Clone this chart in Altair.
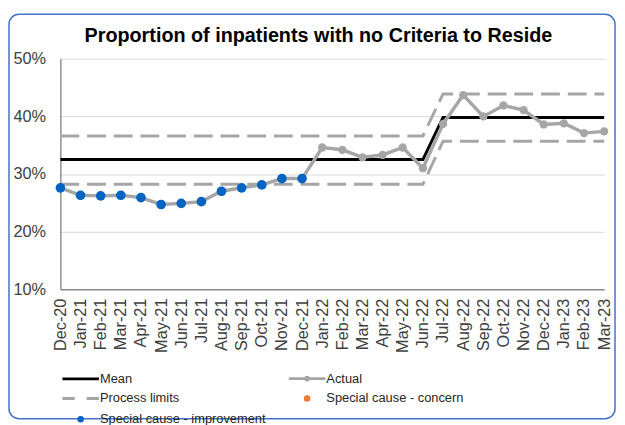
import altair as alt
import pandas as pd

months = ["Dec-20", "Jan-21", "Feb-21", "Mar-21", "Apr-21", "May-21", "Jun-21",
          "Jul-21", "Aug-21", "Sep-21", "Oct-21", "Nov-21", "Dec-21", "Jan-22",
          "Feb-22", "Mar-22", "Apr-22", "May-22", "Jun-22", "Jul-22", "Aug-22",
          "Sep-22", "Oct-22", "Nov-22", "Dec-22", "Jan-23", "Feb-23", "Mar-23"]
actual = [27.6, 26.3, 26.2, 26.3, 25.9, 24.7, 24.9, 25.2, 27.0, 27.6, 28.1, 29.2,
          29.2, 34.6, 34.2, 32.9, 33.3, 34.6, 31.0, 38.7, 43.7, 40.0, 41.9, 41.1,
          38.6, 38.8, 37.1, 37.4]
mean = [32.5] * 19 + [39.8] * 9
upper_limit = [36.6] * 19 + [43.9] * 9
lower_limit = [28.2] * 19 + [35.7] * 9
improvement = [True] * 13 + [False] * 15
concern = [False] * 28

# legend entries listed column by column (two columns)
legend_names = ["Mean", "Process limits", "Special cause - improvement",
                "Actual", "Special cause - concern"]
legend_colors = ["#000000", "#A6A6A6", "#0563C1", "#A6A6A6", "#ED7D31"]
DOT = "M0.3,0A0.3,0.3,0,1,1,-0.3,0A0.3,0.3,0,1,1,0.3,0"
legend_shapes = [
    "M-3.08,0H3.08",
    "M-3.08,0H-1M1,0H3.08",
    DOT,
    "M-3.08,0H3.08M0.25,0A0.25,0.25,0,1,1,-0.25,0A0.25,0.25,0,1,1,0.25,0",
    DOT,
]

df = pd.DataFrame({
    "month": months,
    "actual": actual,
    "mean": mean,
    "upper": upper_limit,
    "lower": lower_limit,
    "improvement": improvement,
    "concern": concern,
})

FONT = "Liberation Sans"
GREY = "#A6A6A6"
LABEL = "#404040"

x_enc = alt.X("month:N", sort=months,
              scale=alt.Scale(type="point", padding=0, domain=months),
              axis=alt.Axis(title=None, labelAngle=270, labelFontSize=16.5, labelFont=FONT,
                            labelColor=LABEL, ticks=False, labelPadding=9,
                            domainColor="#8C8C8C", domainWidth=1.5, grid=False,
                            labelAlign="right", labelBaseline="middle"))
y_scale = alt.Scale(domain=[10, 50], nice=False, zero=False)

base = alt.Chart(df)

frame = alt.Chart(pd.DataFrame({"k": [0]})).mark_rect(
    fillOpacity=0, stroke="#4472C4", strokeWidth=1.5, cornerRadius=10
).encode(x=alt.value(-52), x2=alt.value(561), y=alt.value(-45), y2=alt.value(364))

mean_line = base.mark_line(color="#000000", strokeWidth=3).encode(
    x=x_enc,
    y=alt.Y("mean:Q", scale=y_scale,
            axis=alt.Axis(title=None, values=[10, 15, 20, 25, 30, 35, 40, 45, 50],
                          labelExpr="datum.value + '%'", labelFontSize=16.5, labelFont=FONT,
                          labelColor=LABEL, ticks=False, labelPadding=15,
                          domainColor="#595959", domainWidth=1,
                          gridColor="#D9D9D9", gridWidth=1)),
)

limits = base.transform_fold(["upper", "lower"], as_=["lim", "val"]).mark_line(
    color=GREY, strokeWidth=3, strokeDash=[19, 8]
).encode(x=x_enc, y=alt.Y("val:Q", scale=y_scale), detail="lim:N")

actual_line = base.mark_line(color=GREY, strokeWidth=3.5).encode(
    x=x_enc, y=alt.Y("actual:Q", scale=y_scale))
actual_pts = base.mark_point(filled=True, color=GREY, size=70, opacity=1).encode(
    x=x_enc, y=alt.Y("actual:Q", scale=y_scale))
impr_pts = base.transform_filter("datum.improvement").mark_point(
    filled=True, color="#0563C1", size=95, opacity=1
).encode(x=x_enc, y=alt.Y("actual:Q", scale=y_scale))

legend_df = pd.DataFrame({"entry": legend_names})
leg = alt.Legend(title=None, orient="none", legendX=13, legendY=316, columns=2,
                 columnPadding=17, rowPadding=4, symbolSize=144, symbolStrokeWidth=3,
                 symbolOpacity=1, labelFontSize=13, labelFont=FONT, labelColor="#262626",
                 labelOffset=12, labelLimit=400)
legend_layer = alt.Chart(legend_df).mark_point(filled=True, opacity=0).encode(
    fill=alt.Fill("entry:N", scale=alt.Scale(domain=legend_names, range=legend_colors), legend=leg),
    stroke=alt.Stroke("entry:N", scale=alt.Scale(domain=legend_names, range=legend_colors), legend=leg),
    shape=alt.Shape("entry:N", scale=alt.Scale(domain=legend_names, range=legend_shapes), legend=leg),
)

chart = alt.layer(frame, mean_line, limits, actual_line, actual_pts, impr_pts, legend_layer).properties(
    width=550, height=233,
    padding={"left": 53, "top": 49, "right": 13, "bottom": 135},
    autosize=alt.AutoSizeParams(type="none"),
    title=alt.Title("Proportion of inpatients with no Criteria to Reside", fontSize=20,
                    fontWeight="bold", font=FONT, color="#000000", anchor="middle",
                    frame="group", dx=-14, dy=49, offset=0, baseline="alphabetic"),
).configure_view(stroke=None)

chart.save("out.html", embed_options={"renderer": "svg", "actions": False})
